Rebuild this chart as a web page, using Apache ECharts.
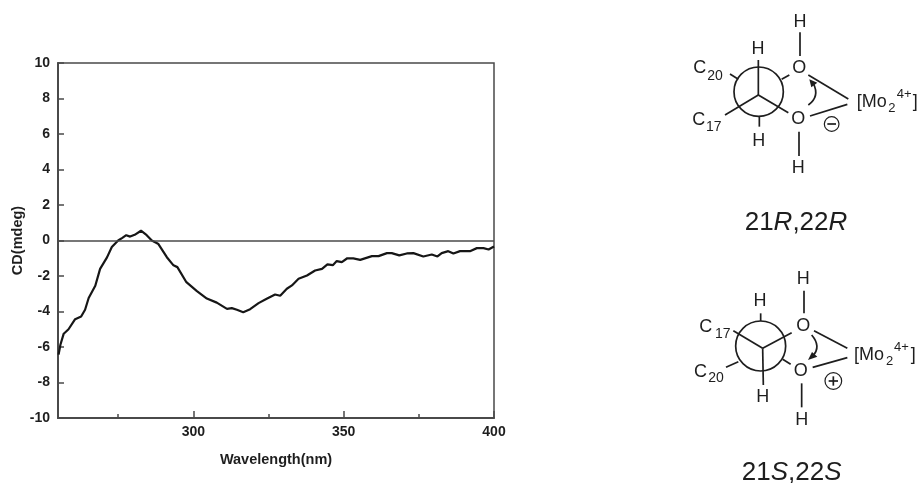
<!DOCTYPE html>
<html>
<head>
<meta charset="utf-8">
<style>html,body{margin:0;padding:0;background:#fff}#c{width:919px;height:483px;filter:blur(0.4px)}</style>
<script src="https://cdn.jsdelivr.net/npm/echarts@6/dist/echarts.min.js"></script>
</head>
<body>
<div id="c"></div>
<script>
const wavelength = [255.2,255.8,256.9,258.5,260.7,262.7,264,265.2,267.4,269,271.3,272.9,275,276.4,277.7,279,280.5,282.6,284.5,286.2,288.4,291.2,293.4,294.7,297.7,301.2,304.5,307.8,311.2,312.8,314.5,316.6,318.9,321.7,324.4,327.2,328.9,331.1,332.8,335,337.8,340.5,342.8,344.6,346.4,347.7,349.4,351.2,353.2,355.5,359.4,361.6,364.4,366,368.5,371,373.2,376.5,379.3,381.2,382.6,384.8,386.5,388.7,392,394.3,396.5,398.2,400];
const cd = [-6.43,-5.87,-5.25,-5,-4.43,-4.28,-3.9,-3.24,-2.55,-1.6,-0.95,-0.37,0,0.15,0.3,0.22,0.32,0.55,0.3,0,-0.2,-0.94,-1.4,-1.5,-2.35,-2.85,-3.27,-3.5,-3.85,-3.81,-3.9,-4.04,-3.87,-3.53,-3.28,-3.04,-3.11,-2.72,-2.53,-2.16,-1.97,-1.69,-1.6,-1.35,-1.39,-1.16,-1.22,-1,-1.01,-1.09,-0.88,-0.88,-0.71,-0.71,-0.84,-0.73,-0.71,-0.9,-0.79,-0.9,-0.71,-0.6,-0.73,-0.6,-0.6,-0.43,-0.43,-0.51,-0.34];
const xMajorTicks = [300,350,400];
const xMinorTicks = [275,325,375];
const xTitle = 'Wavelength(nm)';
const yTitle = 'CD(mdeg)';

const INK = '#1e1e1e';
const AXIS = '#4a4a4a';
const FONT = '"Liberation Sans", Arial, sans-serif';

// structure drawing helpers (coordinates relative to a panel origin, in 1/3 px)
function panel(ox, oy) {
  const px = (x) => ox + x / 3, py = (y) => oy + y / 3;
  const lw = 1.7;
  return {
    line: (a, b, c, d) => ({type:'line', silent:true, shape:{x1:px(a),y1:py(b),x2:px(c),y2:py(d)}, style:{stroke:INK,lineWidth:lw}}),
    ring: (a, b, r, w) => ({type:'circle', silent:true, shape:{cx:px(a),cy:py(b),r:r/3}, style:{fill:'none',stroke:INK,lineWidth:w||lw}}),
    text: (a, b, t, size, align) => ({type:'text', silent:true, x:px(a), y:py(b), style:{text:t,fill:INK,font:(size||18)+'px '+FONT,align:align||'center',verticalAlign:'middle'}}),
    curve: (a,b,c,d,e,f) => ({type:'bezierCurve', silent:true, shape:{x1:px(a),y1:py(b),cpx1:px(c),cpy1:py(d),x2:px(e),y2:py(f)}, style:{fill:'none',stroke:INK,lineWidth:lw}}),
    tri: (pts) => ({type:'polygon', silent:true, shape:{points:pts.map(p=>[px(p[0]),py(p[1])])}, style:{fill:INK}})
  };
}
const a = panel(670, 0);
const b = panel(670, 250);
const structures = [
  a.ring(266,275,74),
  a.line(265,180,265,285), a.line(265,285,165,345), a.line(265,285,355,338),
  a.line(205,238,180,222), a.line(335,238,358,225), a.line(268,350,268,380),
  a.text(264,147,'H'), a.text(70,205,'C',18,'left'), a.text(112,228,'20',14,'left'),
  a.text(67,360,'C',18,'left'), a.text(108,380,'17',14,'left'),
  a.text(388,205,'O'), a.text(385,358,'O'), a.text(390,65,'H'), a.text(385,505,'H'), a.text(266,422,'H'),
  a.line(390,97,390,168), a.line(387,395,387,468),
  a.line(415,225,535,297), a.line(420,348,532,313),
  a.text(560,305,'[Mo',18,'left'), a.text(655,325,'2',13,'left'), a.text(680,283,'4+',13,'left'), a.text(728,305,']',18,'left'),
  a.curve(415,315,450,290,430,250), a.tri([[418,238],[442,248],[424,262]]),
  a.ring(485,372,22,1.2), a.line(472,372,498,372),
  a.text(378,668,'21{i|R},22{i|R}',26),

  b.ring(272,288,75),
  b.line(190,242,278,295), b.line(278,295,365,248), b.line(278,295,280,405),
  b.line(272,190,272,213), b.line(205,335,168,352), b.line(338,328,362,343),
  b.text(270,152,'H'), b.text(88,230,'C',18,'left'), b.text(135,252,'17',14,'left'),
  b.text(72,365,'C',18,'left'), b.text(115,385,'20',14,'left'),
  b.text(400,228,'O'), b.text(392,362,'O'), b.text(400,88,'H'), b.text(395,510,'H'), b.text(278,442,'H'),
  b.line(402,122,402,190), b.line(395,400,395,472),
  b.line(432,242,532,295), b.line(428,352,532,323),
  b.text(552,315,'[Mo',18,'left'), b.text(648,335,'2',13,'left'), b.text(672,293,'4+',13,'left'), b.text(722,315,']',18,'left'),
  b.curve(425,255,455,290,428,318), b.tri([[414,330],[426,306],[442,320]]),
  b.ring(490,393,25,1.2), b.line(476,393,504,393), b.line(490,379,490,407),
  b.text(365,668,'21{i|S},22{i|S}',26)
];
structures.forEach(g => {
  if (g.type === 'text' && g.style.text.indexOf('{i|') >= 0) {
    g.style.rich = {i:{font:'italic 26px '+FONT, fill:INK}};
  }
});

const chart = echarts.init(document.getElementById('c'), null, {renderer:'canvas'});
const labelStyle = {color:'#1e1e1e', fontFamily:FONT, fontWeight:'bold', fontSize:14};
chart.setOption({
  animation:false,
  backgroundColor:'#fff',
  grid:{left:58, top:63, width:436, height:355, show:true, borderColor:AXIS, borderWidth:1.5, backgroundColor:'transparent'},
  xAxis:[{
    type:'value', min:255, max:400, position:'bottom',
    name:xTitle, nameLocation:'middle', nameGap:34,
    nameTextStyle:{color:'#1e1e1e', fontFamily:FONT, fontWeight:'bold', fontSize:14.5},
    splitLine:{show:false},
    axisLine:{show:true, onZero:false, lineStyle:{color:AXIS,width:2}},
    axisTick:{show:true, inside:true, length:7, customValues:xMajorTicks, lineStyle:{color:AXIS,width:1.5}},
    axisLabel:Object.assign({show:true, margin:7, customValues:xMajorTicks}, labelStyle)
  },{
    type:'value', min:255, max:400, position:'bottom',
    splitLine:{show:false},
    axisLine:{show:false, onZero:false},
    axisTick:{show:true, inside:true, length:4, customValues:xMinorTicks, lineStyle:{color:AXIS,width:1.5}},
    axisLabel:{show:false}
  }],
  yAxis:{
    type:'value', min:-10, max:10, interval:2,
    name:yTitle, nameLocation:'middle', nameGap:33,
    nameTextStyle:{color:'#1e1e1e', fontFamily:FONT, fontWeight:'bold', fontSize:14.5},
    splitLine:{show:false},
    axisLine:{show:true, onZero:false, lineStyle:{color:AXIS,width:2}},
    axisTick:{show:true, inside:true, length:6, lineStyle:{color:AXIS,width:1.5}},
    axisLabel:Object.assign({margin:8}, labelStyle)
  },
  series:[{
    type:'line', xAxisIndex:0, symbol:'none', smooth:false,
    data:wavelength.map((w,i)=>[w,cd[i]]),
    lineStyle:{color:'#161616', width:2.2},
    markLine:{silent:true, symbol:'none', label:{show:false},
      lineStyle:{color:'#4a4a4a', width:1.5, type:'solid'}, data:[{yAxis:0}]}
  }],
  graphic:{elements:structures}
});
</script>
</body>
</html>
